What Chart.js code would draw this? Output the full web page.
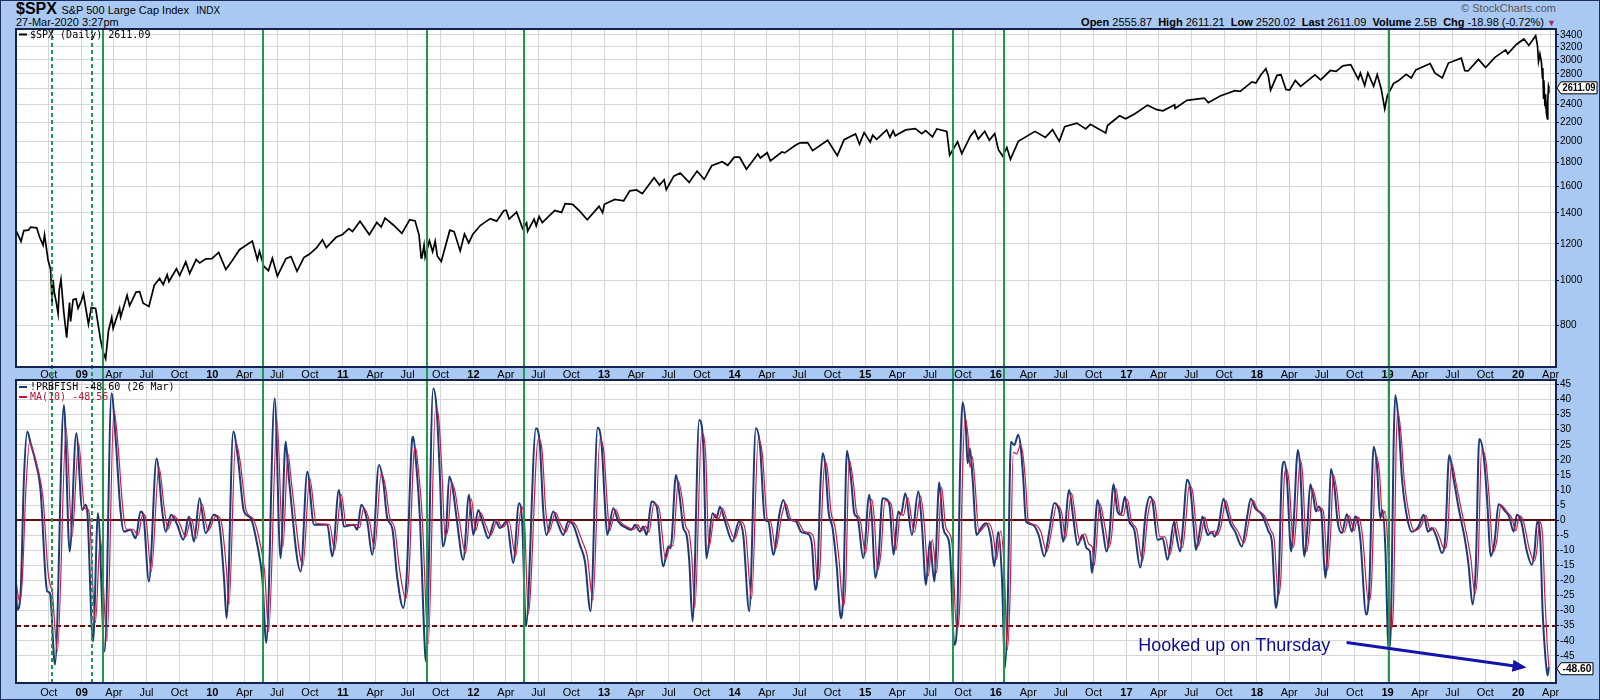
<!DOCTYPE html>
<html>
<head>
<meta charset="utf-8">
<script src="https://cdn.jsdelivr.net/npm/chart.js"></script>
<style>
  html, body { margin: 0; padding: 0; }
  body { width: 1600px; height: 700px; overflow: hidden; background: #a9c9f3; font-family: "Liberation Sans", Arial, sans-serif; }
  #frame { position: absolute; left: 0; top: 0; width: 1598px; height: 698px; border: 1px solid #1c2f5e; }
  .hdr { position: absolute; white-space: nowrap; color: #000; }
  canvas { position: absolute; left: 0; }
</style>
</head>
<body>
<div id="frame"></div>
<div class="hdr" style="left:16px;top:0px;line-height:17px;">
  <span style="font:bold 16px 'Liberation Sans',Arial;">$SPX</span>
  <span style="font:11px 'Liberation Sans',Arial;">S&amp;P 500 Large Cap Index</span>
  <span style="font:10px 'Liberation Sans',Arial;">&nbsp;INDX</span>
</div>
<div class="hdr" style="left:16px;top:16px;font:11px 'Liberation Sans',Arial;">27-Mar-2020 3:27pm</div>
<div class="hdr" style="right:44px;top:2px;font:11px 'Liberation Sans',Arial;color:#555;">&#169; StockCharts.com</div>
<div class="hdr" style="right:44px;top:16px;font:11px 'Liberation Sans',Arial;">
  <b>Open</b> 2555.87&nbsp; <b>High</b> 2611.21&nbsp; <b>Low</b> 2520.02&nbsp; <b>Last</b> 2611.09&nbsp; <b>Volume</b> 2.5B&nbsp; <b>Chg</b> -18.98 (-0.72%) <span style="color:#9c2a6e;font-size:9px;">&#9660;</span>
</div>
<canvas id="priceChart" width="1600" height="380" style="top:0px;"></canvas>
<canvas id="fishChart" width="1600" height="322" style="top:378px;"></canvas>

<script>
// ---- data ----
// S&P 500 closes (date, close)
const spxPoints = [
  ['2008-07-01',1284],['2008-07-15',1215],['2008-07-23',1282],['2008-08-05',1285],['2008-08-11',1305],
  ['2008-08-28',1300],['2008-09-05',1242],['2008-09-15',1193],['2008-09-19',1255],['2008-09-29',1106],
  ['2008-10-06',1056],['2008-10-10',899],['2008-10-13',1003],['2008-10-16',946],['2008-10-22',896],
  ['2008-10-27',848],['2008-10-30',954],['2008-11-04',1005],['2008-11-12',853],['2008-11-20',752],
  ['2008-11-28',896],['2008-12-01',816],['2008-12-08',909],['2008-12-16',913],['2008-12-22',871],
  ['2008-12-31',903],['2009-01-06',935],['2009-01-20',805],['2009-01-28',874],['2009-02-09',870],
  ['2009-02-23',743],['2009-03-02',700],['2009-03-09',677],['2009-03-17',778],['2009-03-26',832],
  ['2009-03-30',788],['2009-04-17',870],['2009-04-20',833],['2009-05-08',929],['2009-05-15',882],
  ['2009-06-02',944],['2009-06-12',946],['2009-06-22',893],['2009-07-08',879],['2009-07-23',977],
  ['2009-08-07',1010],['2009-08-17',980],['2009-08-28',1029],['2009-09-02',995],['2009-09-23',1060],
  ['2009-10-02',1025],['2009-10-19',1097],['2009-10-30',1036],['2009-11-17',1110],['2009-11-27',1091],
  ['2009-12-14',1114],['2009-12-31',1115],['2010-01-19',1150],['2010-02-08',1056],['2010-02-25',1102],
  ['2010-03-18',1166],['2010-04-23',1217],['2010-05-07',1110],['2010-05-13',1157],['2010-05-25',1074],
  ['2010-06-07',1050],['2010-06-18',1117],['2010-07-02',1022],['2010-07-26',1115],['2010-08-09',1127],
  ['2010-08-26',1047],['2010-09-14',1121],['2010-09-30',1141],['2010-10-20',1178],['2010-11-05',1225],
  ['2010-11-16',1178],['2010-12-13',1240],['2010-12-31',1258],['2011-01-18',1295],['2011-01-28',1276],
  ['2011-02-18',1343],['2011-03-16',1257],['2011-04-06',1335],['2011-04-18',1305],['2011-04-29',1364],
  ['2011-05-23',1317],['2011-06-15',1265],['2011-07-07',1354],['2011-07-22',1346],['2011-08-02',1254],
  ['2011-08-08',1119],['2011-08-10',1121],['2011-08-16',1193],['2011-08-19',1124],['2011-08-31',1219],
  ['2011-09-09',1154],['2011-09-16',1216],['2011-09-22',1130],['2011-10-03',1099],['2011-10-27',1285],
  ['2011-11-08',1276],['2011-11-25',1159],['2011-12-07',1261],['2011-12-19',1206],['2011-12-30',1258],
  ['2012-01-20',1315],['2012-02-17',1361],['2012-03-06',1344],['2012-03-26',1416],['2012-04-02',1419],
  ['2012-04-10',1358],['2012-05-01',1406],['2012-05-18',1295],['2012-05-29',1333],['2012-06-01',1278],
  ['2012-06-19',1358],['2012-06-25',1313],['2012-07-03',1375],['2012-07-12',1334],['2012-08-16',1418],
  ['2012-09-04',1404],['2012-09-14',1466],['2012-10-05',1461],['2012-10-25',1413],['2012-11-15',1353],
  ['2012-12-18',1447],['2012-12-28',1402],['2013-01-02',1462],['2013-01-31',1498],['2013-02-25',1488],
  ['2013-03-14',1563],['2013-04-02',1570],['2013-04-18',1541],['2013-05-21',1669],['2013-06-05',1609],
  ['2013-06-18',1652],['2013-06-24',1573],['2013-07-15',1682],['2013-08-02',1709],['2013-08-27',1630],
  ['2013-09-18',1725],['2013-10-08',1655],['2013-10-29',1771],['2013-11-27',1807],['2013-12-13',1775],
  ['2013-12-31',1848],['2014-01-15',1848],['2014-02-03',1741],['2014-03-07',1878],['2014-03-14',1841],
  ['2014-04-02',1890],['2014-04-11',1815],['2014-05-13',1897],['2014-05-21',1888],['2014-06-20',1962],
  ['2014-07-03',1985],['2014-07-24',1988],['2014-08-07',1910],['2014-09-18',2011],['2014-10-15',1862],
  ['2014-11-03',2017],['2014-12-05',2075],['2014-12-16',1972],['2014-12-29',2090],['2015-01-15',1992],
  ['2015-01-22',2063],['2015-02-02',2020],['2015-03-02',2117],['2015-03-11',2040],['2015-03-20',2108],
  ['2015-03-26',2056],['2015-04-24',2117],['2015-05-21',2131],['2015-06-08',2079],['2015-06-19',2110],
  ['2015-07-08',2046],['2015-07-20',2128],['2015-08-17',2102],['2015-08-25',1867],['2015-09-16',1996],
  ['2015-09-28',1882],['2015-10-22',2052],['2015-11-03',2109],['2015-11-13',2023],['2015-12-01',2103],
  ['2015-12-14',2012],['2015-12-29',2078],['2016-01-08',1922],['2016-01-20',1859],['2016-02-01',1940],
  ['2016-02-11',1829],['2016-03-04',2000],['2016-04-20',2102],['2016-05-19',2040],['2016-06-08',2119],
  ['2016-06-27',2000],['2016-07-12',2152],['2016-08-15',2190],['2016-09-09',2128],['2016-09-22',2177],
  ['2016-11-04',2085],['2016-11-09',2164],['2016-12-13',2271],['2016-12-30',2239],['2017-01-26',2297],
  ['2017-03-01',2395],['2017-03-27',2342],['2017-04-13',2329],['2017-05-16',2400],['2017-05-17',2357],
  ['2017-06-19',2453],['2017-07-27',2475],['2017-08-07',2480],['2017-08-18',2425],['2017-09-20',2508],
  ['2017-10-31',2575],['2017-11-15',2565],['2017-12-18',2690],['2017-12-29',2674],['2018-01-12',2786],
  ['2018-01-26',2872],['2018-02-02',2762],['2018-02-08',2581],['2018-02-26',2779],['2018-03-09',2786],
  ['2018-03-23',2588],['2018-04-02',2581],['2018-04-18',2708],['2018-05-03',2630],['2018-06-12',2786],
  ['2018-06-28',2716],['2018-07-25',2846],['2018-08-10',2833],['2018-08-29',2914],['2018-09-20',2930],
  ['2018-10-11',2728],['2018-10-17',2809],['2018-10-29',2641],['2018-11-07',2813],['2018-11-23',2632],
  ['2018-12-03',2790],['2018-12-14',2600],['2018-12-24',2351],['2018-12-31',2507],['2019-01-18',2671],
  ['2019-01-31',2704],['2019-02-22',2793],['2019-03-08',2743],['2019-03-21',2855],['2019-04-30',2946],
  ['2019-05-13',2812],['2019-06-03',2744],['2019-06-20',2954],['2019-07-26',3026],['2019-08-05',2844],
  ['2019-08-14',2840],['2019-09-12',3009],['2019-10-02',2888],['2019-10-28',3039],['2019-11-27',3154],
  ['2019-12-03',3093],['2019-12-27',3240],['2020-01-17',3330],['2020-01-31',3225],['2020-02-19',3386],
  ['2020-02-24',3226],['2020-02-27',2979],['2020-03-02',3090],['2020-03-06',2972],['2020-03-09',2747],
  ['2020-03-10',2882],['2020-03-12',2481],['2020-03-13',2711],['2020-03-16',2386],['2020-03-17',2529],
  ['2020-03-18',2399],['2020-03-19',2409],['2020-03-20',2305],['2020-03-23',2237],['2020-03-24',2447],
  ['2020-03-26',2630],['2020-03-27',2611.09]
];

// !PRBFISH oscillator (decimal year, value)
const fishLine = [
  [2008.497,-22.5],[2008.507,-29.7],[2008.533,-23.6],[2008.558,13.9],[2008.584,29.4],[2008.609,25.5],
  [2008.647,19.4],[2008.686,9.5],[2008.724,-19.2],[2008.737,-23.6],[2008.757,-24.2],[2008.796,-47.9],
  [2008.864,38.2],[2008.908,-10.4],[2008.959,28.8],[2009.005,3.4],[2009.030,5.1],[2009.043,2.9],
  [2009.087,-40.2],[2009.125,2.3],[2009.176,-43.5],[2009.229,42.1],[2009.260,27.2],[2009.298,2.9],
  [2009.324,-3.8],[2009.375,-3.2],[2009.413,-6.0],[2009.451,2.9],[2009.472,1.8],[2009.515,-20.3],
  [2009.574,20.5],[2009.617,2.9],[2009.643,-3.8],[2009.686,1.8],[2009.732,-1.5],[2009.778,-6.5],
  [2009.822,1.2],[2009.860,-7.1],[2009.903,7.3],[2009.949,-4.3],[2010.013,1.8],[2010.051,-0.4],
  [2010.090,-19.2],[2010.110,-32.5],[2010.161,29.4],[2010.197,20.5],[2010.243,2.9],[2010.294,0.7],
  [2010.345,-8.2],[2010.383,-19.2],[2010.414,-40.7],[2010.478,40.4],[2010.523,-12.6],[2010.562,26.0],
  [2010.587,13.9],[2010.677,-17.0],[2010.728,16.1],[2010.779,-1.5],[2010.881,-1.5],[2010.919,-12.0],
  [2010.970,10.0],[2011.008,-2.1],[2011.085,-1.5],[2011.110,-3.2],[2011.141,5.1],[2011.187,-0.4],
  [2011.225,-11.5],[2011.276,18.3],[2011.309,12.8],[2011.340,0.7],[2011.378,-2.6],[2011.417,-19.2],
  [2011.463,-29.1],[2011.488,-19.2],[2011.527,24.9],[2011.539,27.7],[2011.560,19.4],[2011.590,0.7],
  [2011.629,-43.5],[2011.636,-46.8],[2011.692,43.7],[2011.718,37.1],[2011.744,13.9],[2011.764,-8.7],
  [2011.790,-3.8],[2011.815,14.5],[2011.841,10.6],[2011.871,0.7],[2011.922,-13.1],[2011.966,8.4],
  [2011.999,-4.9],[2012.037,3.4],[2012.075,-1.5],[2012.114,-6.0],[2012.165,0.1],[2012.203,-2.6],
  [2012.254,-0.4],[2012.305,-14.2],[2012.349,5.6],[2012.374,-1.5],[2012.402,-35.2],[2012.479,30.5],
  [2012.509,24.9],[2012.535,2.9],[2012.560,-4.9],[2012.611,2.9],[2012.650,-1.5],[2012.688,-4.9],
  [2012.726,-0.4],[2012.764,-1.5],[2012.815,-8.2],[2012.854,-13.7],[2012.897,-30.2],[2012.951,30.7],
  [2012.982,24.9],[2013.007,5.1],[2013.025,-4.9],[2013.071,4.0],[2013.109,-0.4],[2013.173,-2.6],
  [2013.211,-3.2],[2013.237,-1.5],[2013.275,-3.8],[2013.300,-2.1],[2013.326,-4.9],[2013.364,6.2],
  [2013.403,4.5],[2013.454,-15.3],[2013.492,-8.7],[2013.510,-9.3],[2013.551,15.0],[2013.581,7.3],
  [2013.607,-2.6],[2013.632,-4.9],[2013.653,-13.7],[2013.678,-33.6],[2013.729,33.2],[2013.760,24.9],
  [2013.785,-12.6],[2013.831,2.3],[2013.862,0.7],[2013.887,4.5],[2013.926,-0.4],[2013.984,-7.1],
  [2014.033,-0.4],[2014.066,-4.9],[2014.112,-30.2],[2014.163,30.5],[2014.194,24.9],[2014.232,0.1],
  [2014.258,-0.4],[2014.296,-11.5],[2014.342,1.8],[2014.373,6.7],[2014.411,0.7],[2014.423,0.1],
  [2014.469,-0.4],[2014.508,-3.8],[2014.541,-4.3],[2014.571,-4.9],[2014.592,-8.2],[2014.617,-23.1],
  [2014.635,-18.1],[2014.656,10.6],[2014.674,22.2],[2014.694,18.3],[2014.719,2.9],[2014.750,-2.6],
  [2014.781,-14.8],[2014.814,-32.5],[2014.832,-24.7],[2014.860,23.0],[2014.891,13.9],[2014.916,2.3],
  [2014.942,0.7],[2014.985,-12.6],[2015.031,8.4],[2015.051,0.7],[2015.077,-19.2],[2015.102,-12.6],
  [2015.133,7.3],[2015.171,6.7],[2015.189,4.0],[2015.217,-11.5],[2015.253,2.9],[2015.273,1.8],
  [2015.307,8.9],[2015.358,-4.9],[2015.406,9.5],[2015.434,-1.5],[2015.465,-21.4],[2015.495,-7.1],
  [2015.529,-20.3],[2015.567,12.6],[2015.597,-2.6],[2015.638,-6.5],[2015.651,-11.5],[2015.682,-41.3],
  [2015.707,-30.2],[2015.725,13.9],[2015.746,39.1],[2015.771,30.5],[2015.784,18.9],[2015.802,23.8],
  [2015.822,13.9],[2015.853,-4.9],[2015.886,-2.6],[2015.924,-1.0],[2015.962,-6.0],[2015.988,-15.3],
  [2016.019,-3.8],[2016.047,-19.2],[2016.070,-49.0],[2016.090,-30.2],[2016.116,26.0],[2016.141,24.9],
  [2016.172,28.3],[2016.192,23.8],[2016.210,13.9],[2016.231,-0.4],[2016.282,-1.5],[2016.328,-4.9],
  [2016.371,-12.0],[2016.409,-3.8],[2016.447,5.6],[2016.486,2.9],[2016.516,-7.1],[2016.562,10.0],
  [2016.593,0.7],[2016.626,-8.2],[2016.664,-4.9],[2016.695,-9.3],[2016.721,-10.4],[2016.736,-17.5],
  [2016.779,6.7],[2016.817,-2.6],[2016.848,-10.4],[2016.868,-6.0],[2016.902,11.9],[2016.932,2.9],
  [2016.958,1.8],[2016.988,7.8],[2017.022,-0.4],[2017.060,-3.2],[2017.106,-15.7],[2017.149,2.9],
  [2017.180,7.8],[2017.200,6.2],[2017.239,-6.5],[2017.277,-6.0],[2017.315,-13.1],[2017.366,-0.4],
  [2017.374,-2.6],[2017.412,-10.4],[2017.438,0.7],[2017.463,13.4],[2017.489,10.6],[2017.514,-1.5],
  [2017.532,-9.8],[2017.553,-6.0],[2017.583,1.2],[2017.604,-2.6],[2017.624,-4.9],[2017.655,-3.8],
  [2017.675,-5.4],[2017.706,-2.1],[2017.744,7.1],[2017.770,2.9],[2017.795,-1.0],[2017.833,-3.8],
  [2017.884,-8.7],[2017.923,0.7],[2017.953,7.1],[2017.986,4.0],[2018.038,1.8],[2018.089,-3.8],
  [2018.114,-7.1],[2018.145,-29.1],[2018.165,-21.4],[2018.191,16.1],[2018.209,19.4],[2018.229,13.9],
  [2018.262,-10.4],[2018.280,-1.5],[2018.313,23.3],[2018.331,17.2],[2018.362,-12.0],[2018.382,-4.9],
  [2018.408,11.9],[2018.433,7.3],[2018.451,2.9],[2018.471,4.5],[2018.492,2.9],[2018.523,-19.2],
  [2018.548,-2.6],[2018.566,17.0],[2018.594,10.6],[2018.617,-0.4],[2018.650,-4.3],[2018.688,2.0],
  [2018.727,-3.8],[2018.752,1.2],[2018.770,0.1],[2018.791,-6.0],[2018.836,-31.3],[2018.859,-23.6],
  [2018.893,24.4],[2018.918,18.3],[2018.944,0.7],[2018.962,3.4],[2018.982,-8.2],[2019.008,-42.4],
  [2019.028,-30.2],[2019.046,24.9],[2019.059,41.5],[2019.084,32.7],[2019.110,13.9],[2019.148,1.2],
  [2019.186,-3.8],[2019.237,-2.1],[2019.276,1.8],[2019.309,-3.8],[2019.339,-2.6],[2019.378,-6.0],
  [2019.416,-10.9],[2019.441,-6.0],[2019.472,21.6],[2019.505,13.9],[2019.544,4.0],[2019.595,-7.1],
  [2019.620,-14.8],[2019.651,-28.0],[2019.676,-14.8],[2019.702,26.9],[2019.735,21.6],[2019.760,8.4],
  [2019.791,-12.0],[2019.819,-7.1],[2019.850,5.3],[2019.901,2.9],[2019.931,1.2],[2019.965,-3.8],
  [2019.990,1.8],[2020.023,-0.4],[2020.067,-10.4],[2020.105,-14.8],[2020.125,-10.4],[2020.146,-0.4],
  [2020.169,-6.0],[2020.187,-30.2],[2020.207,-44.6],[2020.225,-51.5],[2020.235,-48.60]
];

// MA(10) of the oscillator (decimal year, value)
const maLine = [
  [2008.497,-20],[2008.525,-27],[2008.545,-20],[2008.575,12],[2008.602,26],[2008.628,23],[2008.665,17],
  [2008.705,7],[2008.742,-17],[2008.757,-21],[2008.775,-24],[2008.814,-43.5],[2008.882,30.5],[2008.926,-5.5],
  [2008.977,25.5],[2009.022,4],[2009.050,3.5],[2009.060,1.5],[2009.105,-34],[2009.143,-6],[2009.194,-40],
  [2009.247,36.5],[2009.278,25],[2009.316,3.5],[2009.342,-3],[2009.393,-3],[2009.431,-5],[2009.469,2],
  [2009.490,1],[2009.533,-17],[2009.592,17.5],[2009.635,3],[2009.661,-3],[2009.704,1.5],[2009.750,-1],
  [2009.796,-5.5],[2009.840,0.5],[2009.878,-6],[2009.921,5.5],[2009.967,-3.5],[2010.031,1.5],[2010.069,-0.5],
  [2010.108,-16],[2010.128,-28],[2010.179,26],[2010.215,19],[2010.261,3],[2010.312,0.5],[2010.363,-7],
  [2010.401,-17],[2010.432,-37],[2010.496,33],[2010.541,-9],[2010.580,22],[2010.605,13],[2010.695,-15],
  [2010.746,14],[2010.797,-1],[2010.899,-1.5],[2010.937,-10],[2010.988,8.5],[2011.026,-1.5],[2011.103,-1.5],
  [2011.128,-2.5],[2011.159,4],[2011.205,-0.5],[2011.243,-9.5],[2011.294,15.5],[2011.327,11],[2011.358,1],
  [2011.396,-2.5],[2011.435,-16.5],[2011.481,-26],[2011.506,-18],[2011.545,22.5],[2011.557,24],[2011.578,17],
  [2011.608,1],[2011.647,-39],[2011.654,-41],[2011.710,37.5],[2011.736,33],[2011.762,13],[2011.782,-5],
  [2011.808,-2],[2011.833,12.5],[2011.859,9.5],[2011.889,1],[2011.940,-11],[2011.984,7],[2012.017,-3.5],
  [2012.055,2.5],[2012.093,-1.5],[2012.132,-5],[2012.183,0],[2012.221,-2.5],[2012.272,-0.5],[2012.323,-12],
  [2012.367,4.5],[2012.392,-1],[2012.420,-31],[2012.497,27],[2012.527,22.5],[2012.553,3.5],[2012.578,-4],
  [2012.629,2.5],[2012.668,-1.5],[2012.706,-4],[2012.744,-0.5],[2012.782,-1.5],[2012.833,-7],[2012.872,-12],
  [2012.915,-26.5],[2012.969,27],[2013.000,22],[2013.025,5],[2013.043,-3.5],[2013.089,3.5],[2013.127,-0.5],
  [2013.191,-2.5],[2013.229,-3],[2013.255,-1.5],[2013.293,-3.5],[2013.318,-2],[2013.344,-4],[2013.382,5.5],
  [2013.421,4],[2013.472,-13],[2013.510,-8],[2013.528,-8.5],[2013.569,13],[2013.599,7],[2013.625,-2],
  [2013.650,-4],[2013.671,-11.5],[2013.696,-29],[2013.747,29],[2013.778,22],[2013.803,-9],[2013.849,2],
  [2013.880,0.5],[2013.905,4],[2013.944,-0.5],[2014.002,-6],[2014.051,-0.5],[2014.084,-4],[2014.130,-26],
  [2014.181,27],[2014.212,22],[2014.250,0.5],[2014.276,-0.5],[2014.314,-9.5],[2014.360,1.5],[2014.391,5.5],
  [2014.429,0.5],[2014.441,0],[2014.487,-0.5],[2014.526,-3.5],[2014.559,-4],[2014.589,-4.5],[2014.610,-7],
  [2014.635,-20],[2014.653,-16.5],[2014.674,9],[2014.692,19.5],[2014.712,16.5],[2014.737,3],[2014.768,-2],
  [2014.799,-13],[2014.832,-28.5],[2014.850,-22],[2014.878,20],[2014.909,12.5],[2014.934,2.5],[2014.960,0.5],
  [2015.003,-11],[2015.049,7],[2015.069,1],[2015.095,-16.5],[2015.120,-11],[2015.151,6.5],[2015.189,6],
  [2015.207,3.5],[2015.235,-10],[2015.271,2.5],[2015.291,1.5],[2015.325,7.5],[2015.376,-4],[2015.424,8],
  [2015.452,-1],[2015.483,-18.5],[2015.513,-6.5],[2015.547,-17.5],[2015.585,11],[2015.615,-2],[2015.656,-5.5],
  [2015.669,-10],[2015.700,-36],[2015.725,-27],[2015.743,11.5],[2015.764,34],[2015.789,27],[2015.802,17.5],
  [2015.820,21],[2015.840,12.5],[2015.871,-4],[2015.904,-2.5],[2015.942,-1],[2015.980,-5],[2016.006,-13],
  [2016.037,-3.5],[2016.065,-16.5],[2016.088,-43],[2016.108,-27],[2016.134,22.5],[2016.159,22],[2016.190,25],
  [2016.210,21],[2016.228,12.5],[2016.249,-0.5],[2016.300,-1.5],[2016.346,-4],[2016.389,-10.5],[2016.427,-3.5],
  [2016.465,5],[2016.504,2.5],[2016.534,-6],[2016.580,9],[2016.611,0.5],[2016.644,-7],[2016.682,-4.5],
  [2016.713,-8],[2016.739,-9],[2016.754,-15],[2016.797,5.5],[2016.835,-2],[2016.866,-9],[2016.886,-5.5],
  [2016.920,10.5],[2016.950,2.5],[2016.976,1.5],[2017.006,7],[2017.040,-0.5],[2017.078,-3],[2017.124,-13.5],
  [2017.167,2.5],[2017.198,7],[2017.218,5.5],[2017.257,-5.5],[2017.295,-5.5],[2017.333,-11.5],[2017.384,-0.5],
  [2017.392,-2.5],[2017.430,-9],[2017.456,0.5],[2017.481,11.5],[2017.507,9.5],[2017.532,-1.5],[2017.550,-8.5],
  [2017.571,-5.5],[2017.601,1],[2017.622,-2.5],[2017.642,-4.5],[2017.673,-3.5],[2017.693,-5],[2017.724,-2],
  [2017.762,6.5],[2017.788,2.5],[2017.813,-1],[2017.851,-3.5],[2017.902,-7.5],[2017.941,0.5],[2017.971,6.5],
  [2018.004,3.5],[2018.056,1.5],[2018.107,-3.5],[2018.132,-6.5],[2018.163,-25],[2018.183,-19],[2018.209,14],
  [2018.227,17],[2018.247,12],[2018.280,-9],[2018.298,-1.5],[2018.331,20],[2018.349,15.5],[2018.380,-10.5],
  [2018.400,-4.5],[2018.426,10.5],[2018.451,6.5],[2018.469,3],[2018.489,4],[2018.510,2.5],[2018.541,-16.5],
  [2018.566,-2.5],[2018.584,15],[2018.612,9.5],[2018.635,0],[2018.668,-4],[2018.706,1.5],[2018.745,-3.5],
  [2018.770,1],[2018.788,0],[2018.809,-5.5],[2018.854,-27],[2018.877,-21],[2018.911,21.5],[2018.936,16.5],
  [2018.962,1],[2018.980,3],[2019.000,-7],[2019.026,-36],[2019.046,-27],[2019.064,21],[2019.077,36],
  [2019.102,29],[2019.128,13],[2019.166,1.5],[2019.204,-3.5],[2019.255,-2],[2019.294,1.5],[2019.327,-3.5],
  [2019.357,-2.5],[2019.396,-5.5],[2019.434,-9.5],[2019.459,-5.5],[2019.490,19],[2019.523,12.5],[2019.562,4],
  [2019.613,-6.5],[2019.638,-13],[2019.669,-24.5],[2019.694,-13.5],[2019.720,23.5],[2019.753,19.5],[2019.778,7.5],
  [2019.809,-10.5],[2019.837,-6.5],[2019.868,5],[2019.919,2.5],[2019.949,1],[2019.983,-3.5],[2020.008,1.5],
  [2020.041,-0.5],[2020.085,-9.5],[2020.123,-13.5],[2020.143,-10],[2020.164,-0.5],[2020.187,-5.5],
  [2020.205,-26],[2020.222,-41],[2020.235,-48.56]
];

// axis ticks
const priceTicks = [800, 1000, 1200, 1400, 1600, 1800, 2000, 2200, 2400, 2600, 2800, 3000, 3200, 3400];
const fishTicks = [45, 40, 35, 30, 25, 20, 15, 10, 5, 0, -5, -10, -15, -20, -25, -30, -35, -40, -45];
const quarterNames = ['Jan', 'Apr', 'Jul', 'Oct'];

// green signal lines (decimal year) and oscillator reference levels
const signalLines = [
  { at: 2008.776, dashed: true }, { at: 2009.081, dashed: true }, { at: 2009.163, dashed: false },
  { at: 2010.392, dashed: false }, { at: 2011.642, dashed: false }, { at: 2012.387, dashed: false },
  { at: 2015.669, dashed: false }, { at: 2016.064, dashed: false }, { at: 2019.008, dashed: false }
];
const fishLevels = [{ value: 0, dashed: false }, { value: -35, dashed: true }];

// ---- helpers ----
function toYear(s) {
  const [y, m, d] = s.split('-').map(Number);
  const start = Date.UTC(y, 0, 1), end = Date.UTC(y + 1, 0, 1);
  return y + (Date.UTC(y, m - 1, d) - start) / (end - start);
}

const X_MIN = toYear('2008-07-01');
const X_MAX = toYear('2020-04-16');
const FONT = '"Liberation Sans", Arial, sans-serif';

let quarterTicks = [];
for (let y = 2008; y <= 2020; y++) {
  for (let q = 0; q < 4; q++) {
    const v = toYear(y + '-' + String(q * 3 + 1).padStart(2, '0') + '-01');
    if (v > X_MIN + 0.01 && v < X_MAX) {
      quarterTicks.push({ value: v, label: q === 0 ? String(y).slice(2) : quarterNames[q], bold: q === 0 });
    }
  }
}

function xScale(labelPad) {
  return {
    type: 'linear', min: X_MIN, max: X_MAX,
    afterBuildTicks: s => { s.ticks = quarterTicks.map(t => ({ value: t.value })); },
    afterFit: s => { s.height = labelPad.h; s.paddingLeft = 0; s.paddingRight = 0; },
    ticks: {
      autoSkip: false, maxRotation: 0, minRotation: 0, padding: labelPad.p, color: '#000',
      callback: (v, i) => quarterTicks[i] ? quarterTicks[i].label : '',
      font: ctx => ({ family: FONT, size: 11, weight: (quarterTicks[ctx.index] && quarterTicks[ctx.index].bold) ? 'bold' : 'normal' })
    },
    grid: { color: '#d6d6d6', lineWidth: 1, drawTicks: false },
    border: { display: false }
  };
}

function yScaleCommon(extra) {
  return Object.assign({
    position: 'right',
    afterFit: s => { s.width = 44; s.paddingTop = 0; s.paddingBottom = 0; },
    ticks: { padding: 1, color: '#000', font: { family: FONT, size: 10 } },
    grid: { color: '#d6d6d6', lineWidth: 1, tickLength: 3, tickColor: '#000' },
    border: { display: false }
  }, extra);
}

// value tag on the right axis, fixed narrow box like the reference
function drawTag(ctx, x, y, text, boxW) {
  ctx.save();
  ctx.font = 'bold 11px "Liberation Sans", Arial';
  const h = 12;
  ctx.beginPath();
  ctx.moveTo(x + 1, y);
  ctx.lineTo(x + 5, y - h / 2);
  ctx.lineTo(x + 5 + boxW, y - h / 2);
  ctx.lineTo(x + 5 + boxW, y + h / 2);
  ctx.lineTo(x + 5, y + h / 2);
  ctx.closePath();
  ctx.fillStyle = '#fff';
  ctx.fill();
  ctx.strokeStyle = '#000';
  ctx.lineWidth = 1;
  ctx.stroke();
  ctx.fillStyle = '#000';
  ctx.textBaseline = 'middle';
  ctx.fillText(text, x + 6.5, y + 0.5, boxW - 3);
  ctx.restore();
}

function drawSignals(chart, y0, y1) {
  const ctx = chart.ctx, xs = chart.scales.x;
  ctx.save();
  ctx.strokeStyle = '#1f9a4a';
  ctx.lineWidth = 2;
  signalLines.forEach(s => {
    const x = Math.round(xs.getPixelForValue(s.at));
    ctx.setLineDash(s.dashed ? [4, 3] : []);
    ctx.beginPath();
    ctx.moveTo(x, y0);
    ctx.lineTo(x, y1);
    ctx.stroke();
  });
  ctx.restore();
}

function drawFrame(chart) {
  const a = chart.chartArea, ctx = chart.ctx;
  ctx.save();
  ctx.strokeStyle = '#14244f';
  ctx.lineWidth = 2;
  ctx.strokeRect(a.left, a.top, a.right - a.left, a.bottom - a.top);
  ctx.restore();
}

function legendLine(ctx, x, y, color, text, textColor) {
  ctx.save();
  ctx.strokeStyle = color;
  ctx.lineWidth = 2;
  ctx.beginPath();
  ctx.moveTo(x, y);
  ctx.lineTo(x + 8, y);
  ctx.stroke();
  ctx.font = '10px "DejaVu Sans Mono", monospace';
  ctx.fillStyle = textColor;
  ctx.textBaseline = 'middle';
  ctx.fillText(text, x + 11, y + 0.5);
  ctx.restore();
}

const whiteArea = {
  id: 'whiteArea',
  beforeDraw(chart) {
    const a = chart.chartArea;
    chart.ctx.save();
    chart.ctx.fillStyle = '#fff';
    chart.ctx.fillRect(a.left, a.top, a.right - a.left, a.bottom - a.top);
    chart.ctx.restore();
  }
};

// ---- price panel ----
const lastSpx = spxPoints[spxPoints.length - 1][1];
const pricePlugin = {
  id: 'pricePanel',
  afterDatasetsDraw(chart) {
    const a = chart.chartArea;
    drawSignals(chart, a.top, chart.height);
    drawFrame(chart);
    legendLine(chart.ctx, a.left + 3, a.top + 5.5, '#000', '$SPX (Daily) ' + lastSpx.toFixed(2), '#000');
    drawTag(chart.ctx, a.right, chart.scales.y.getPixelForValue(lastSpx), lastSpx.toFixed(2), 36);
  }
};

new Chart(document.getElementById('priceChart'), {
  type: 'line',
  data: {
    datasets: [{
      data: spxPoints.map(p => ({ x: toYear(p[0]), y: p[1] })),
      borderColor: '#000', borderWidth: 1.7, pointRadius: 0, tension: 0
    }]
  },
  options: {
    responsive: false, animation: false,
    layout: { padding: { left: 16, top: 29, right: 0, bottom: 0 } },
    plugins: { legend: { display: false }, tooltip: { enabled: false } },
    scales: {
      x: xScale({ h: 13, p: 1 }),
      y: yScaleCommon({
        type: 'logarithmic', min: 650, max: 3500,
        afterBuildTicks: s => { s.ticks = priceTicks.map(v => ({ value: v })); },
        ticks: {
          padding: 1, color: '#000', font: { family: FONT, size: 10 },
          callback: v => (v === 2600 ? '' : String(v))
        }
      })
    }
  },
  plugins: [whiteArea, pricePlugin]
});

// ---- oscillator panel ----
const lastFish = fishLine[fishLine.length - 1][1];
const lastMa = maLine[maLine.length - 1][1];
const fishPlugin = {
  id: 'fishPanel',
  beforeDatasetsDraw(chart) {
    const ctx = chart.ctx, a = chart.chartArea, ys = chart.scales.y;
    ctx.save();
    ctx.strokeStyle = '#650d0d';
    ctx.lineWidth = 2;
    fishLevels.forEach(l => {
      const y = Math.round(ys.getPixelForValue(l.value));
      ctx.setLineDash(l.dashed ? [5, 3] : []);
      ctx.beginPath();
      ctx.moveTo(a.left, y);
      ctx.lineTo(a.right, y);
      ctx.stroke();
    });
    ctx.restore();
  },
  afterDatasetsDraw(chart) {
    const ctx = chart.ctx, a = chart.chartArea, xs = chart.scales.x, ys = chart.scales.y;
    drawSignals(chart, 0, a.bottom);

    // annotation
    ctx.save();
    ctx.font = '18px ' + FONT;
    ctx.fillStyle = '#0b0b94';
    ctx.textBaseline = 'middle';
    ctx.fillText('Hooked up on Thursday', xs.getPixelForValue(2017.09), ys.getPixelForValue(-41.6));
    const x0 = xs.getPixelForValue(2018.686), y0 = ys.getPixelForValue(-40.6);
    const x1 = xs.getPixelForValue(2020.064), y1 = ys.getPixelForValue(-48.9);
    const ang = Math.atan2(y1 - y0, x1 - x0);
    ctx.strokeStyle = '#1414aa';
    ctx.fillStyle = '#1414aa';
    ctx.lineWidth = 3;
    ctx.beginPath();
    ctx.moveTo(x0, y0);
    ctx.lineTo(x1 - 12 * Math.cos(ang), y1 - 12 * Math.sin(ang));
    ctx.stroke();
    ctx.beginPath();
    ctx.moveTo(x1, y1);
    ctx.lineTo(x1 - 14 * Math.cos(ang) + 6 * Math.sin(ang), y1 - 14 * Math.sin(ang) - 6 * Math.cos(ang));
    ctx.lineTo(x1 - 14 * Math.cos(ang) - 6 * Math.sin(ang), y1 - 14 * Math.sin(ang) + 6 * Math.cos(ang));
    ctx.closePath();
    ctx.fill();
    ctx.restore();

    drawFrame(chart);
    legendLine(ctx, a.left + 3, a.top + 7, '#1b3a78', '!PRBFISH ' + lastFish.toFixed(2) + ' (26 Mar)', '#000');
    legendLine(ctx, a.left + 3, a.top + 17, '#c0143f', 'MA(10) ' + lastMa.toFixed(2), '#b0123a');
    drawTag(ctx, a.right, ys.getPixelForValue(lastFish) + 2, lastFish.toFixed(2), 32);
  }
};

new Chart(document.getElementById('fishChart'), {
  type: 'line',
  data: {
    datasets: [
      {
        data: maLine.map(p => ({ x: p[0], y: p[1] })),
        borderColor: '#cc1a48', borderWidth: 1.2, pointRadius: 0, cubicInterpolationMode: 'monotone'
      },
      {
        data: fishLine.map(p => ({ x: p[0], y: p[1] })),
        borderColor: '#1b3a78', borderWidth: 2, pointRadius: 0, cubicInterpolationMode: 'monotone'
      }
    ]
  },
  options: {
    responsive: false, animation: false,
    layout: { padding: { left: 16, top: 2, right: 0, bottom: 0 } },
    plugins: { legend: { display: false }, tooltip: { enabled: false } },
    scales: {
      x: xScale({ h: 17, p: 3 }),
      y: yScaleCommon({
        type: 'linear', min: -54, max: 46.5,
        afterBuildTicks: s => { s.ticks = fishTicks.map(v => ({ value: v })); },
        ticks: { padding: 1, color: '#000', font: { family: FONT, size: 10 }, callback: v => String(v) }
      })
    }
  },
  plugins: [whiteArea, fishPlugin]
});
</script>
</body>
</html>
